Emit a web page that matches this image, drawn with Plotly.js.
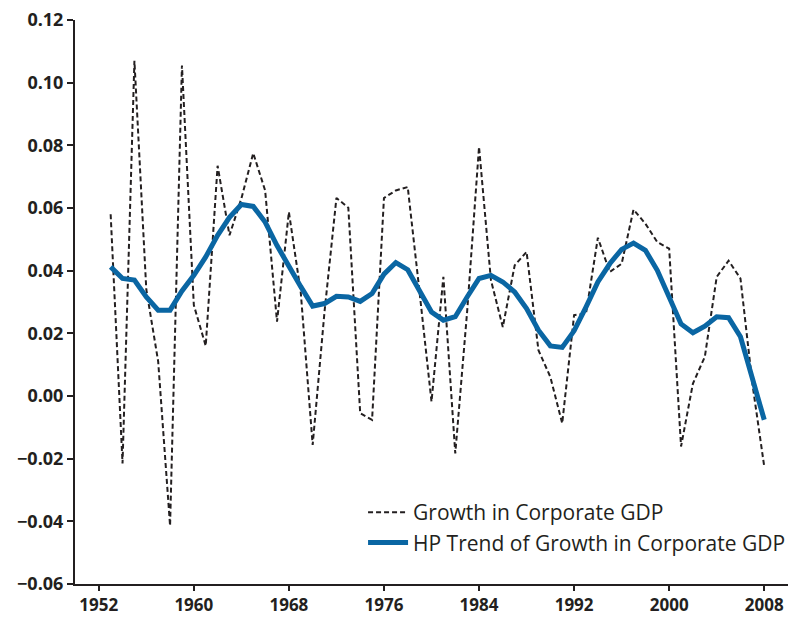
<!DOCTYPE html>
<html>
<head>
<meta charset="utf-8">
<script src="https://cdn.plot.ly/plotly-3.0.1.min.js"></script>
<style>html,body{margin:0;padding:0;background:#fff;}#chart{width:790px;height:617px;}</style>
</head>
<body>
<div id="chart"></div>
<script>
const years = [1953,1954,1955,1956,1957,1958,1959,1960,1961,1962,1963,1964,1965,1966,1967,1968,1969,1970,1971,1972,1973,1974,1975,1976,1977,1978,1979,1980,1981,1982,1983,1984,1985,1986,1987,1988,1989,1990,1991,1992,1993,1994,1995,1996,1997,1998,1999,2000,2001,2002,2003,2004,2005,2006,2007,2008];
const growth = [0.058,-0.0215,0.107,0.034,0.011,-0.0414,0.1055,0.029,0.016,0.0735,0.0513,0.063,0.0775,0.0656,0.0237,0.0587,0.033,-0.0156,0.027,0.0632,0.0601,-0.0055,-0.0076,0.0632,0.0656,0.0667,0.033,-0.0018,0.038,-0.0183,0.027,0.0795,0.037,0.022,0.0417,0.046,0.0146,0.0061,-0.0087,0.0258,0.0263,0.0505,0.0396,0.0422,0.0595,0.055,0.0491,0.047,-0.0161,0.004,0.0125,0.038,0.0432,0.0375,0.004,-0.0225];
const trend = [0.0412,0.0375,0.037,0.0316,0.0274,0.0274,0.0335,0.0385,0.0444,0.0513,0.057,0.0611,0.0605,0.0555,0.048,0.0412,0.0349,0.0287,0.0295,0.0318,0.0316,0.0302,0.0327,0.0389,0.0426,0.0403,0.0338,0.0268,0.0242,0.0253,0.0316,0.0375,0.0385,0.0364,0.0332,0.0279,0.021,0.016,0.0155,0.0208,0.0284,0.0364,0.0422,0.0468,0.0488,0.0465,0.0401,0.0316,0.023,0.0202,0.0223,0.0253,0.025,0.0189,0.0061,-0.0076];
const xTicks = [1952,1960,1968,1976,1984,1992,2000,2008];
const yTicks = [-0.06,-0.04,-0.02,0.00,0.02,0.04,0.06,0.08,0.10,0.12];

const axisColor = '#231f20';
const data = [
  {x: years, y: growth, type: 'scatter', mode: 'lines', name: 'Growth in Corporate GDP',
   line: {color: '#231f20', width: 2, dash: '5px,3px'}},
  {x: years, y: trend, type: 'scatter', mode: 'lines', name: 'HP Trend of Growth in Corporate GDP',
   line: {color: '#0a66a3', width: 5}}
];
const layout = {
  width: 790, height: 617,
  margin: {l: 75, r: 2, t: 20, b: 33, autoexpand: false},
  paper_bgcolor: '#fff', plot_bgcolor: '#fff',
  font: {family: 'Open Sans, sans-serif', color: axisColor},
  showlegend: true,
  legend: {x: 0.404, y: 0.163, xanchor: 'left', yanchor: 'top', bgcolor: 'rgba(0,0,0,0)',
           font: {size: 21, family: 'Open Sans, sans-serif', color: axisColor}, itemwidth: 40},
  xaxis: {range: [1950, 2010], tickvals: xTicks, ticktext: xTicks.map(String), showgrid: false, zeroline: false,
          automargin: false,
          showline: true, linecolor: axisColor, linewidth: 2, ticks: 'outside', ticklen: 5, tickwidth: 2, tickcolor: axisColor,
          tickfont: {size: 17, weight: 'bold', color: axisColor}},
  yaxis: {range: [-0.06, 0.12], tickvals: yTicks, tickformat: '.2f', showgrid: false, zeroline: false,
          automargin: false,
          showline: true, linecolor: axisColor, linewidth: 2, ticks: 'outside', ticklen: 6, tickwidth: 2, tickcolor: axisColor,
          tickfont: {size: 18, weight: 'bold', color: axisColor}}
};
Plotly.newPlot('chart', data, layout, {displayModeBar: false});
</script>
</body>
</html>
